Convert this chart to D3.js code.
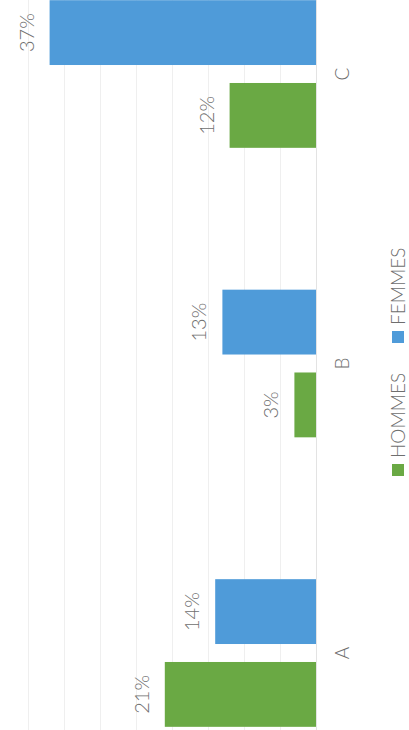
<!DOCTYPE html>
<html>
<head>
<meta charset="utf-8">
<script src="https://cdn.jsdelivr.net/npm/d3@7"></script>
<style>
  html, body { margin: 0; padding: 0; background: #fff; }
  svg { display: block; }
  text { font-family: Lato, "Open Sans", sans-serif; font-weight: 300; fill: #6e6e6e; }
</style>
</head>
<body>
<svg id="chart" width="409" height="730"></svg>
<script>
// Survey shares by group, split by sex
const categories = ["A", "B", "C"];
const seriesNames = ["HOMMES", "FEMMES"];
const hommes = [21, 3, 12];
const femmes = [14, 13, 37];
const gridTicks = [0, 5, 10, 15, 20, 25, 30, 35, 40];

const colors = { HOMMES: "#6aa944", FEMMES: "#4f9bd9" };

const W = 730, H = 409;       // column-chart frame, turned a quarter-turn on the page
const baseY = 316, topY = 28;

const svg = d3.select("#chart");
const g = svg.append("g").attr("transform", "translate(0,730) rotate(-90)");

const x0 = d3.scaleBand()
  .domain(categories)
  .range([-67.75, 800.75])
  .paddingInner(0.49)
  .paddingOuter(0.245);

const x1 = d3.scaleBand()
  .domain(seriesNames)
  .range([0, x0.bandwidth()])
  .paddingInner(0.217);

const y = d3.scaleLinear().domain([0, 40]).range([baseY, topY]);

// light horizontal gridlines
g.append("g")
  .attr("class", "grid")
  .call(d3.axisLeft(y).tickValues(gridTicks).tickSize(-W - 20).tickFormat(""))
  .attr("transform", "translate(-10,0)")
  .call(s => s.select(".domain").remove())
  .call(s => s.selectAll(".tick line").attr("stroke", "#efefef").attr("stroke-width", 1));

const rows = categories.map((c, i) => ({
  cat: c,
  values: [
    { key: "HOMMES", value: hommes[i] },
    { key: "FEMMES", value: femmes[i] }
  ]
}));

const groups = g.selectAll(".cat")
  .data(rows)
  .join("g")
  .attr("class", "cat")
  .attr("transform", d => `translate(${x0(d.cat)},0)`);

groups.selectAll("rect")
  .data(d => d.values)
  .join("rect")
  .attr("x", d => x1(d.key))
  .attr("y", d => y(d.value))
  .attr("width", x1.bandwidth())
  .attr("height", d => y(0) - y(d.value))
  .attr("fill", d => colors[d.key]);

groups.selectAll("text.val")
  .data(d => d.values)
  .join("text")
  .attr("class", "val")
  .attr("x", d => x1(d.key) + x1.bandwidth() / 2)
  .attr("y", d => y(d.value) - 16)
  .attr("text-anchor", "middle")
  .attr("font-size", 20)
  .text(d => d.value + "%");

// category axis
const xAxis = g.append("g")
  .attr("transform", `translate(0,${baseY})`)
  .call(d3.axisBottom(x0).tickSize(0).tickPadding(0));
xAxis.select(".domain").attr("stroke", "#e3e3e3");
xAxis.selectAll(".tick text")
  .attr("dy", 0)
  .attr("y", 33)
  .attr("font-size", 19)
  .style("font-family", "Lato, 'Open Sans', sans-serif")
  .style("font-weight", 300)
  .attr("fill", "#6e6e6e");

// legend
const legendItems = [
  { key: "HOMMES", x: 254 },
  { key: "FEMMES", x: 387 }
];
const legend = g.append("g").attr("class", "legend");
legend.selectAll("rect")
  .data(legendItems)
  .join("rect")
  .attr("x", d => d.x)
  .attr("y", 392)
  .attr("width", 12)
  .attr("height", 12)
  .attr("fill", d => colors[d.key]);
legend.selectAll("text")
  .data(legendItems)
  .join("text")
  .attr("x", d => d.x + 18)
  .attr("y", 405)
  .attr("font-size", 19)
  .text(d => d.key);
</script>
</body>
</html>
